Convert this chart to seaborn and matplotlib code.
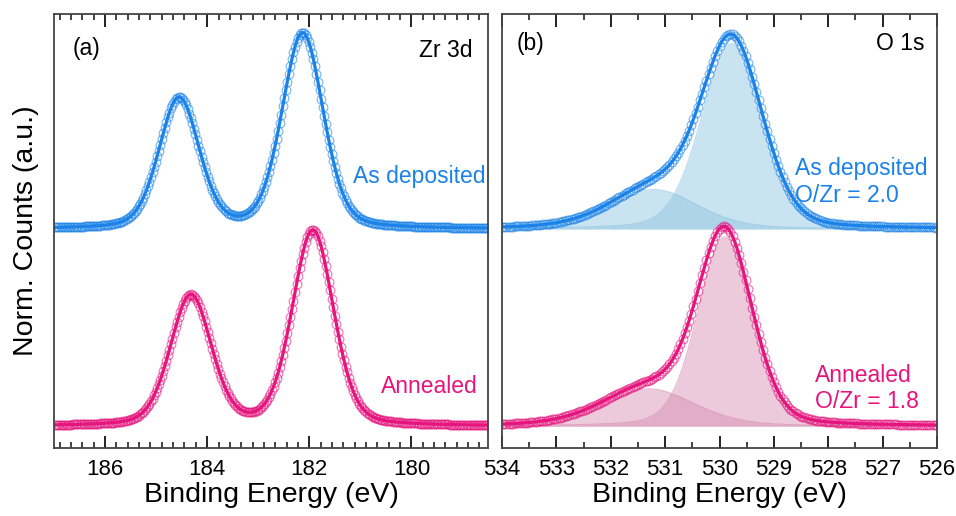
import numpy as np
import pandas as pd
import matplotlib
matplotlib.use("Agg")
import matplotlib.pyplot as plt
from matplotlib.ticker import MultipleLocator, NullLocator
import seaborn as sns

# Peak-fit parameters
# (centre in eV, height in normalised counts, FWHM in eV, Lorentzian fraction)
zr_dep_center = [182.13, 184.55]
zr_dep_height = [0.99, 0.66]
zr_dep_fwhm = [0.95, 0.93]
zr_ann_center = [181.93, 184.32]
zr_ann_height = [0.99, 0.66]
zr_ann_fwhm = [0.95, 0.95]
zr_eta = [0.25, 0.25]

o_dep_center = [529.77, 531.2]
o_dep_height = [0.94, 0.20]
o_dep_fwhm = [1.32, 1.9]
o_ann_center = [529.9, 531.3]
o_ann_height = [0.96, 0.19]
o_ann_fwhm = [1.18, 2.0]
o_eta = [0.2, 0.3]

samples = ["As deposited", "Annealed"]
offsets = [1.11, 0.11]
ratio_labels = ["O/Zr = 2.0", "O/Zr = 1.8"]

blue = "#1a82e8"
pink = "#e6147d"
line_colors = [blue, pink]
fill_colors = ["#8ac3df", "#d68bb1"]


def pvoigt(e, c, h, w, eta):
    g = np.exp(-4 * np.log(2) * ((e - c) / w) ** 2)
    lo = 1.0 / (1.0 + 4 * ((e - c) / w) ** 2)
    return h * (eta * lo + (1 - eta) * g)


sns.set_theme(style="ticks")
plt.rcParams["font.family"] = ["Liberation Sans", "DejaVu Sans"]
plt.rcParams["text.color"] = "black"
plt.rcParams["axes.labelcolor"] = "black"

fig = plt.figure(figsize=(9.56, 5.16), dpi=100)
ax1 = fig.add_axes([54 / 956, 68 / 516, 434 / 956, 434 / 516])
ax2 = fig.add_axes([502 / 956, 68 / 516, 435 / 956, 434 / 516])

# ---- Zr 3d ----
e_zr = np.arange(178.5, 187.0001, 0.03)
zr_params = [(zr_dep_center, zr_dep_height, zr_dep_fwhm),
             (zr_ann_center, zr_ann_height, zr_ann_fwhm)]
for (cen, hei, fw), off, col in zip(zr_params, offsets, line_colors):
    total = off + sum(pvoigt(e_zr, c, h, w, et) for c, h, w, et in zip(cen, hei, fw, zr_eta))
    df = pd.DataFrame({"E": e_zr, "I": total})
    sns.lineplot(data=df, x="E", y="I", ax=ax1, linestyle="", marker="o",
                 markersize=6.3, markerfacecolor="none", markeredgecolor=col,
                 markeredgewidth=0.8, alpha=0.6, errorbar=None)
    sns.lineplot(data=df, x="E", y="I", ax=ax1, color=col, lw=2.3, errorbar=None)

# ---- O 1s ----
e_o = np.arange(526.0, 534.0001, 0.04)
o_params = [(o_dep_center, o_dep_height, o_dep_fwhm),
            (o_ann_center, o_ann_height, o_ann_fwhm)]
for (cen, hei, fw), off, col, fc in zip(o_params, offsets, line_colors, fill_colors):
    comps = [pvoigt(e_o, c, h, w, et) for c, h, w, et in zip(cen, hei, fw, o_eta)]
    for comp in comps:
        ax2.fill_between(e_o, off, off + comp, color=fc, alpha=0.45, lw=0)
        ax2.plot(e_o, off + comp, color=fc, lw=0.8, alpha=0.6)
    total = off + sum(comps)
    df = pd.DataFrame({"E": e_o, "I": total})
    sns.lineplot(data=df, x="E", y="I", ax=ax2, linestyle="", marker="o",
                 markersize=6.3, markerfacecolor="none", markeredgecolor=col,
                 markeredgewidth=0.8, alpha=0.6, errorbar=None)
    sns.lineplot(data=df, x="E", y="I", ax=ax2, color=col, lw=2.3, errorbar=None)

# ---- axes styling ----
ax1.set_xlim(187, 178.5)
ax2.set_xlim(534, 526)
ax1.xaxis.set_major_locator(MultipleLocator(2))
ax1.xaxis.set_minor_locator(MultipleLocator(2 / 9))
ax2.xaxis.set_major_locator(MultipleLocator(1))
ax2.xaxis.set_minor_locator(MultipleLocator(0.5))
for ax in (ax1, ax2):
    ax.set_ylim(0, 2.2)
    ax.yaxis.set_major_locator(NullLocator())
    ax.yaxis.set_minor_locator(NullLocator())
    ax.tick_params(axis="x", which="major", direction="in", top=True, bottom=True,
                   length=9, width=1.4, color="#222222", labelcolor="black",
                   labelsize=16, pad=8)
    ax.tick_params(axis="x", which="minor", direction="in", top=True, bottom=True,
                   length=4.5, width=1.2, color="#222222")
    for sp in ax.spines.values():
        sp.set_color("#444444")
        sp.set_linewidth(1.3)
    ax.set_xlabel("Binding Energy (eV)", fontsize=20.5, labelpad=1)
    ax.set_ylabel("")

ax1.set_ylabel("Norm. Counts (a.u.)", fontsize=20.5, labelpad=11)

# ---- annotations ----
fs = 16.5
ax1.text(0.044, 0.905, "(a)", transform=ax1.transAxes, fontsize=fs, va="baseline")
ax1.text(0.965, 0.901, "Zr 3d", transform=ax1.transAxes, fontsize=fs, ha="right", va="baseline")
ax1.text(0.995, 0.611, samples[0], transform=ax1.transAxes, fontsize=fs, ha="right",
         va="baseline", color=blue)
ax1.text(0.977, 0.127, samples[1], transform=ax1.transAxes, fontsize=fs, ha="right",
         va="baseline", color=pink)

ax2.text(0.034, 0.917, "(b)", transform=ax2.transAxes, fontsize=fs, va="baseline")
ax2.text(0.972, 0.917, "O 1s", transform=ax2.transAxes, fontsize=fs, ha="right", va="baseline")
ax2.text(0.674, 0.629, samples[0], transform=ax2.transAxes, fontsize=fs, va="baseline", color=blue)
ax2.text(0.674, 0.567, ratio_labels[0], transform=ax2.transAxes, fontsize=fs, va="baseline", color=blue)
ax2.text(0.72, 0.152, samples[1], transform=ax2.transAxes, fontsize=fs, va="baseline", color=pink)
ax2.text(0.72, 0.092, ratio_labels[1], transform=ax2.transAxes, fontsize=fs, va="baseline", color=pink)

fig.savefig("out.png", dpi=100)
